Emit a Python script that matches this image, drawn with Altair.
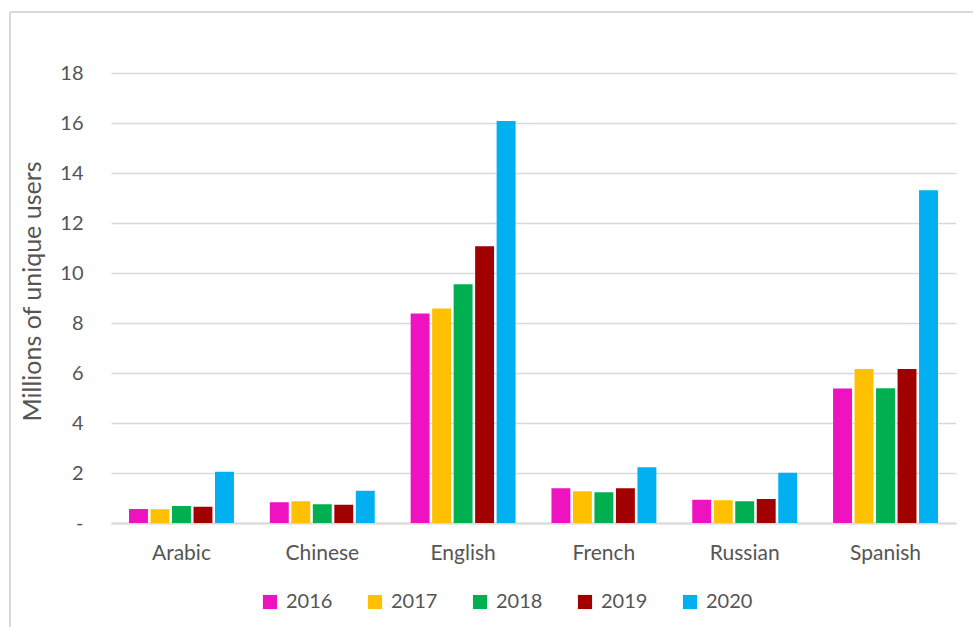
import altair as alt
import pandas as pd

languages = ["Arabic", "Chinese", "English", "French", "Russian", "Spanish"]
years = ["2016", "2017", "2018", "2019", "2020"]
v2016 = [0.56, 0.83, 8.38, 1.39, 0.93, 5.38]
v2017 = [0.55, 0.87, 8.58, 1.27, 0.91, 6.16]
v2018 = [0.68, 0.75, 9.55, 1.23, 0.87, 5.39]
v2019 = [0.65, 0.73, 11.07, 1.39, 0.96, 6.16]
v2020 = [2.05, 1.29, 16.08, 2.23, 2.01, 13.31]
colors = ["#EE12C0", "#FFC000", "#00B050", "#A20000", "#00B0F0"]

series = [v2016, v2017, v2018, v2019, v2020]
rows = []
for y, vals in zip(years, series):
    for lang, v in zip(languages, vals):
        rows.append({"Language": lang, "Year": y, "Users": v})
df = pd.DataFrame(rows)

FONT = "Lato"
TXT = "#555555"
GRID = "#D9D9D9"

bars = alt.Chart(df).mark_bar().encode(
    x=alt.X("Language:N", sort=languages,
            scale=alt.Scale(paddingInner=0.255, paddingOuter=0.128),
            axis=alt.Axis(title=None, labelAngle=0, ticks=False, tickSize=0,
                          domain=True, domainColor=GRID, domainWidth=2,
                          labelPadding=19, labelFontSize=21, labelColor=TXT,
                          labelFont=FONT, grid=False)),
    xOffset=alt.XOffset("Year:N", sort=years,
                        scale=alt.Scale(paddingInner=0.12, paddingOuter=0)),
    y=alt.Y("Users:Q",
            scale=alt.Scale(domain=[0, 18], nice=False),
            axis=alt.Axis(title="Millions of unique users", values=list(range(0, 19, 2)),
                          labelExpr="datum.value == 0 ? '-\u00a0\u00a0' : datum.label",
                          ticks=False, tickSize=0, domain=False,
                          grid=True, gridColor=GRID, gridWidth=1.5,
                          labelPadding=28, labelFontSize=20, labelColor=TXT,
                          labelFont=FONT,
                          titleFont=FONT, titleFontSize=25, titleFontWeight="normal",
                          titleColor=TXT, titleAngle=270, titleX=-79, titleY=218,
                          titleAlign="center", titleBaseline="middle")),
    color=alt.Color("Year:N", sort=years,
                    scale=alt.Scale(domain=years, range=colors),
                    legend=alt.Legend(title=None, orient="none", legendX=149, legendY=519,
                                      direction="horizontal", columns=5,
                                      symbolType="square", symbolSize=200,
                                      symbolStrokeWidth=0, labelFontSize=20,
                                      labelFont=FONT, labelColor=TXT, labelOffset=6,
                                      columnPadding=32, padding=0)),
)

border_data = alt.Data(values=[{"k": 1}])
left_border = alt.Chart(border_data).mark_rule(color=GRID, strokeWidth=2).encode(
    x=alt.value(-101), y=alt.value(-61), y2=alt.value(600))
top_border = alt.Chart(border_data).mark_rule(color=GRID, strokeWidth=2).encode(
    x=alt.value(-101), x2=alt.value(900), y=alt.value(-61))

chart = alt.layer(bars, left_border, top_border).properties(
    width=845, height=450,
    autosize=alt.AutoSizeParams(type="none"),
    padding={"left": 111, "top": 73, "right": 17, "bottom": 104},
    background="white",
).configure_view(stroke=None)

chart.save("out.html", embed_options={"renderer": "svg", "actions": False})
